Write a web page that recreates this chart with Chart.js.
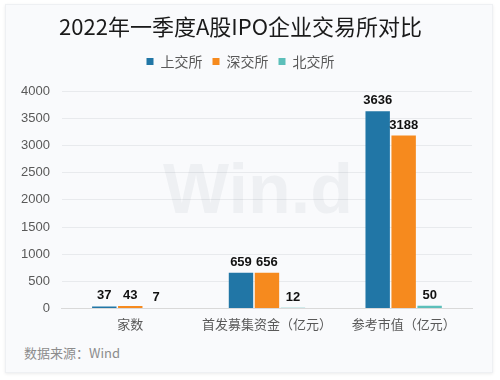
<!DOCTYPE html>
<html><head><meta charset="utf-8">
<script src="https://cdn.jsdelivr.net/npm/chart.js@4/dist/chart.umd.min.js"></script>
<style>
html,body{margin:0;padding:0;background:#fff;width:500px;height:380px;overflow:hidden}
#card{position:absolute;left:5px;top:4px;width:486px;height:367px;background:#f9fafc;border:1px solid #eef0f3;box-shadow:0 1px 3px rgba(0,0,0,0.08)}
#wrap{position:absolute;left:0;top:0;width:500px;height:340px}
#src{position:absolute;left:24px;top:343px;font:13px "Noto Sans CJK SC","Liberation Sans",sans-serif;color:#8c8c8c}
</style></head><body>
<div id="card"></div>
<div id="wrap"><canvas id="c"></canvas></div>
<div id="src">数据来源：Wind</div>
<script>
const categories = ['家数', '首发募集资金（亿元）', '参考市值（亿元）'];
const seriesNames = ['上交所', '深交所', '北交所'];
const sse = [37, 659, 3636];
const szse = [43, 656, 3188];
const bse = [7, 12, 50];
const yTicks = [0, 500, 1000, 1500, 2000, 2500, 3000, 3500, 4000];
const colors = ['#2176a6', '#f68a1e', '#5cbfba'];

const watermark = {
  id: 'watermark',
  beforeDatasetsDraw(chart) {
    const ctx = chart.ctx;
    ctx.save();
    ctx.font = 'bold 70px "Liberation Sans", Arial, sans-serif';
    ctx.fillStyle = 'rgba(120,130,140,0.08)';
    ctx.textAlign = 'center';
    ctx.textBaseline = 'alphabetic';
    ctx.fillText('Win.d', 258, 213);
    ctx.restore();
  }
};
const valueLabels = {
  id: 'valueLabels',
  afterDatasetsDraw(chart) {
    const ctx = chart.ctx;
    ctx.save();
    ctx.font = 'bold 13px "Liberation Sans", Arial, sans-serif';
    ctx.fillStyle = '#111';
    ctx.textAlign = 'center';
    ctx.textBaseline = 'bottom';
    chart.data.datasets.forEach((ds, i) => {
      chart.getDatasetMeta(i).data.forEach((bar, j) => {
        ctx.fillText(String(ds.data[j]), bar.x, bar.y - 4);
      });
    });
    ctx.restore();
  }
};
const legendMargin = {
  id: 'legendMargin',
  beforeInit(chart) {
    const fit = chart.legend.fit;
    chart.legend.fit = function () { fit.call(this); this.height += 13; };
  }
};

new Chart(document.getElementById('c'), {
  type: 'bar',
  data: {
    labels: categories,
    datasets: [
      { label: seriesNames[0], data: sse, backgroundColor: colors[0] },
      { label: seriesNames[1], data: szse, backgroundColor: colors[1] },
      { label: seriesNames[2], data: bse, backgroundColor: colors[2] }
    ]
  },
  options: {
    responsive: true,
    maintainAspectRatio: false,
    animation: false,
    layout: { padding: { left: 9, right: 28, top: 6, bottom: 0 } },
    categoryPercentage: 0.57,
    barPercentage: 0.94,
    plugins: {
      title: {
        display: true,
        text: '2022年一季度A股IPO企业交易所对比',
        font: { family: '"Noto Sans CJK SC", sans-serif', size: 22, weight: 'normal' },
        color: '#1a1a1a',
        padding: { top: 7, bottom: 5 }
      },
      legend: {
        display: true,
        labels: {
          boxWidth: 7, boxHeight: 7,
          font: { family: '"Noto Sans CJK SC", sans-serif', size: 14 },
          color: '#595959',
          padding: 10
        }
      },
      tooltip: { enabled: false }
    },
    scales: {
      x: {
        grid: { display: false, drawTicks: false },
        border: { color: '#d9d9d9' },
        ticks: {
          font: { family: '"Noto Sans CJK SC", sans-serif', size: 13 },
          color: '#595959', padding: 8
        }
      },
      y: {
        min: 0, max: 4000,
        afterBuildTicks(axis) { axis.ticks = yTicks.map(v => ({ value: v })); },
        grid: { color: '#e8eaed', drawTicks: false },
        border: { display: false },
        ticks: {
          font: { family: '"Liberation Sans", Arial, sans-serif', size: 13 },
          color: '#595959', padding: 12,
          callback: v => String(v)
        }
      }
    }
  },
  plugins: [watermark, valueLabels, legendMargin]
});
</script>
</body></html>
